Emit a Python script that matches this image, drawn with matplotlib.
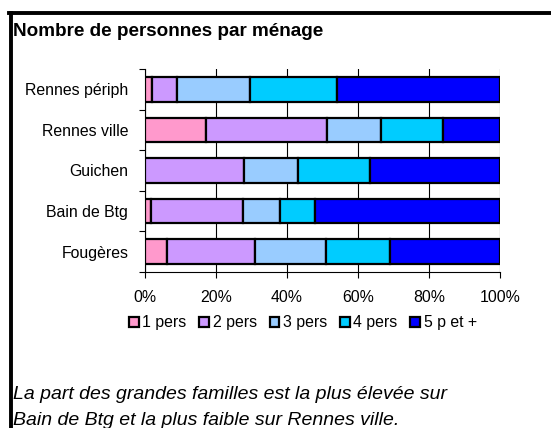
import matplotlib
matplotlib.use("Agg")
import matplotlib.pyplot as plt
from matplotlib.lines import Line2D
from matplotlib.patches import Patch
import numpy as np

plt.rcParams['font.family'] = ['Liberation Sans', 'DejaVu Sans']

# data (share of households, %)
communes = ["Fougères", "Bain de Btg", "Guichen", "Rennes ville", "Rennes périph"]
series = ["1 pers", "2 pers", "3 pers", "4 pers", "5 p et +"]
p1 = [6.3, 1.8, 0.0, 17.3, 2.0]
p2 = [24.6, 25.7, 27.8, 34.0, 7.0]
p3 = [20.1, 10.5, 15.3, 15.1, 20.7]
p4 = [18.0, 9.8, 20.2, 17.5, 24.5]
p5 = [31.0, 52.2, 36.7, 16.1, 45.8]
colors = ["#FF99CC", "#CC99FF", "#99CCFF", "#00CCFF", "#0000FF"]

fig = plt.figure(figsize=(5.51, 4.28), dpi=100)
ax = fig.add_axes([145/551, 1-272/428, 355/551, 203/428])

y = np.arange(len(communes))
left = np.zeros(len(communes))
for vals, c in zip([p1, p2, p3, p4, p5], colors):
    ax.barh(y, vals, left=left, height=0.61, color=c, edgecolor="black", linewidth=1.6, zorder=3)
    left += np.array(vals)

ax.set_xlim(0, 100)
ax.set_ylim(-0.5, len(communes) - 0.5)
ax.set_xticks(np.arange(0, 101, 20))
ax.set_xticklabels([f"{v}%" for v in range(0, 101, 20)], fontsize=11.4)
ax.set_yticks(y)
ax.set_yticklabels(communes, fontsize=11.4)
ax.set_yticks(np.arange(-0.5, len(communes), 1), minor=True)
ax.tick_params(axis='y', which='major', length=0, pad=12)
ax.tick_params(axis='y', which='minor', length=4, width=0.8, direction='out')
ax.tick_params(axis='x', length=4, width=0.8, direction='out', pad=9)
ax.xaxis.grid(True, color="black", linewidth=0.8, zorder=0)
for s in ["top", "right"]:
    ax.spines[s].set_visible(False)
ax.spines["left"].set_linewidth(0.8)
ax.spines["bottom"].set_linewidth(0.8)

handles = [Patch(facecolor=c, edgecolor="black", linewidth=1.6) for c in colors]
fig.legend(handles, series, loc="center", bbox_to_anchor=(303/551, 1-323/428), ncol=5,
           frameon=False, fontsize=11.4, handlelength=0.6, handleheight=0.6,
           handletextpad=0.25, columnspacing=0.8)

fig.text(13/551, 1-36/428, "Nombre de personnes par ménage", fontsize=13.6, fontweight="bold")
fig.text(13/551, 1-399/428, "La part des grandes familles est la plus élevée sur", fontsize=14, style="italic")
fig.text(13/551, 1-425/428, "Bain de Btg et la plus faible sur Rennes ville.", fontsize=14, style="italic")

# frame lines top and left
fig.add_artist(Line2D([9/551, 1], [1-13/428, 1-13/428], color="black", linewidth=2.8))
fig.add_artist(Line2D([10.5/551, 10.5/551], [0, 1-13/428], color="black", linewidth=2.8))

fig.savefig("out.png", dpi=100)
